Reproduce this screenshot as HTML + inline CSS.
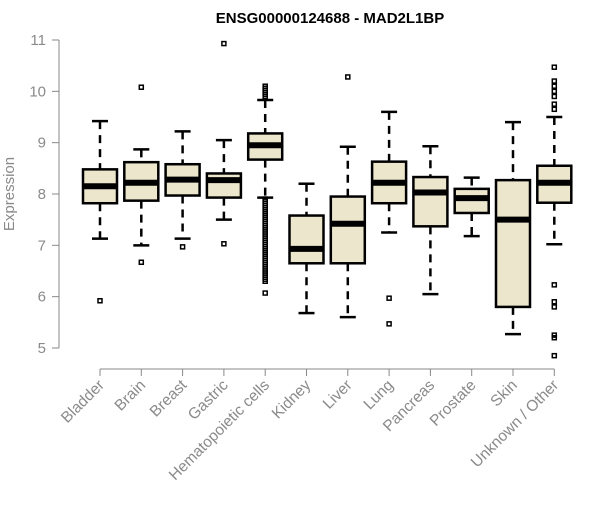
<!DOCTYPE html>
<html><head><meta charset="utf-8"><style>
body{margin:0;background:#fff;}
svg text{font-family:"Liberation Sans",Arial,sans-serif;}
</style></head><body>
<svg id="c" width="600" height="500">
<text x="330" y="23" text-anchor="middle" font-size="15" font-weight="bold">ENSG00000124688 - MAD2L1BP</text>
<text transform="translate(14,194) rotate(-90)" text-anchor="middle" font-size="15" fill="#8a8a8a">Expression</text>
</svg>
<script>
const categories=["Bladder","Brain","Breast","Gastric","Hematopoietic cells","Kidney","Liver","Lung","Pancreas","Prostate","Skin","Unknown / Other"];
const whiskerHigh=[9.42,8.87,9.22,9.05,9.83,8.2,8.92,9.6,8.93,8.32,9.4,9.5];
const q3=[8.48,8.62,8.58,8.4,9.18,7.58,7.95,8.63,8.33,8.1,8.27,8.55];
const medians=[8.15,8.22,8.28,8.27,8.95,6.93,7.42,8.22,8.03,7.92,7.5,8.22];
const q1=[7.82,7.87,7.97,7.93,8.67,6.65,6.65,7.82,7.37,7.63,5.8,7.83];
const whiskerLow=[7.13,7.0,7.13,7.5,7.93,5.68,5.6,7.25,6.05,7.18,5.27,7.02];
const outliers=[[5.92],[10.08,6.67],[6.97],[10.93,7.03],
[10.1,10.06,10.02,9.98,9.94,9.9,7.9,7.86,7.82,7.78,7.74,7.7,7.66,7.62,7.58,7.54,7.5,7.46,7.42,7.38,7.34,7.3,7.26,7.22,7.18,7.14,7.1,7.06,7.02,6.98,6.94,6.9,6.86,6.82,6.78,6.74,6.7,6.66,6.62,6.58,6.54,6.5,6.46,6.42,6.38,6.34,6.3,6.07],
[],[10.28],[5.97,5.47],[],[],[],
[10.47,10.2,10.1,10.0,9.9,9.75,9.65,6.23,5.9,5.8,5.25,5.2,4.85]];
const yTicks=[5,6,7,8,9,10,11];
const NS="http://www.w3.org/2000/svg";
const svg=document.getElementById('c');
const y=v=>40+(11-v)*51.33;
const x=i=>100+i*41.3;
function mk(t,a,p){const e=document.createElementNS(NS,t);for(const k in a)e.setAttribute(k,a[k]);(p||svg).appendChild(e);return e;}
const ax=mk('g',{});


mk('line',{x1:59,x2:59,y1:y(11),y2:y(5),stroke:'#888'},ax);
yTicks.forEach(t=>{
 mk('line',{x1:52,x2:59,y1:y(t),y2:y(t),stroke:'#888'},ax);
 const tx=mk('text',{x:46,y:y(t)+5,'text-anchor':'end','font-size':15,fill:'#8a8a8a'},ax);tx.textContent=t;
 
 
});
const xa=mk('g',{});


mk('line',{x1:x(0),x2:x(11),y1:369,y2:369,stroke:'#888'},xa);
categories.forEach((c,i)=>{
 const cx=x(i),w=17;
 mk('line',{x1:cx,x2:cx,y1:369,y2:376,stroke:'#888'},xa);
 const tx=mk('text',{transform:`translate(${cx+5},${386}) rotate(-45)`,'text-anchor':'end','font-size':15.5,fill:'#8a8a8a'},xa);tx.textContent=c;
 
 
 const g=mk('g',{});
 
 
 mk('line',{x1:cx,x2:cx,y1:y(whiskerHigh[i]),y2:y(q3[i]),stroke:'#000','stroke-width':2.5,'stroke-dasharray':'8,6'},g);
 mk('line',{x1:cx,x2:cx,y1:y(q1[i]),y2:y(whiskerLow[i]),stroke:'#000','stroke-width':2.5,'stroke-dasharray':'8,6'},g);
 mk('line',{x1:cx-8,x2:cx+8,y1:y(whiskerHigh[i]),y2:y(whiskerHigh[i]),stroke:'#000','stroke-width':2.5},g);
 mk('line',{x1:cx-8,x2:cx+8,y1:y(whiskerLow[i]),y2:y(whiskerLow[i]),stroke:'#000','stroke-width':2.5},g);
 mk('rect',{x:cx-w,y:y(q3[i]),width:2*w,height:y(q1[i])-y(q3[i]),fill:'#ECE6CC',stroke:'#000','stroke-width':2.5},g);
 mk('line',{x1:cx-w,x2:cx+w,y1:y(medians[i]),y2:y(medians[i]),stroke:'#000','stroke-width':6},g);
 outliers[i].forEach(o=>{
  const r=mk('rect',{x:cx-2,y:y(o)-2,width:4,height:4,fill:'none',stroke:'#000','stroke-width':1.5},g);
  
  
 });
});
</script>
</body></html>
